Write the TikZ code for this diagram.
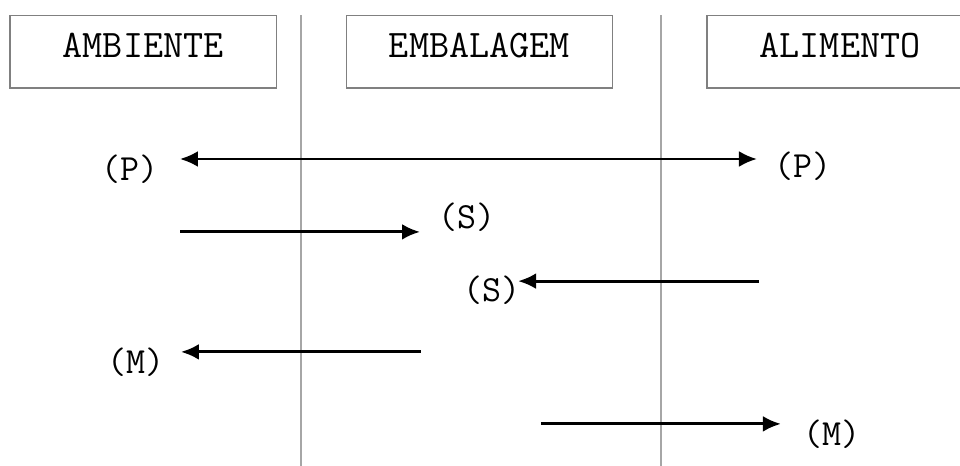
\documentclass[tikz,border=0pt]{standalone}
\usepackage{fontspec}
\usetikzlibrary{arrows.meta}
\begin{document}
\begin{tikzpicture}[
	phasebox/.style={draw=gray, line width=1.2pt, inner sep=0pt, minimum width=8.87cm, text height=1.40cm, text depth=1.03cm, font=\ttfamily\fontsize{37}{44}\selectfont},
	divider/.style={draw=gray!70, line width=1.4pt},
	flowlabel/.style={black, inner sep=0pt, font=\ttfamily\fontsize{35}{42}\selectfont},
	flow/.style={draw=black, line width=2.8pt, -{Latex[length=17pt,width=15pt]}}
	]
	\useasboundingbox (0.00,0.00) rectangle (32.00,-15.53);
	\node[phasebox] (ambiente) at (4.77,-1.72) {AMBIENTE};
	\node[phasebox] (embalagem) at (15.98,-1.72) {EMBALAGEM};
	\node[phasebox] (alimento) at (28.00,-1.72) {ALIMENTO};
	\coordinate (div1top) at (10.03,-0.50);
	\coordinate (div1bot) at (10.03,-15.53);
	\coordinate (div2top) at (22.03,-0.50);
	\coordinate (div2bot) at (22.03,-15.53);
	\draw[divider] (div1top) -- (div1bot);
	\draw[divider] (div2top) -- (div2bot);
	\node[flowlabel] (pamb) at (4.33,-5.63) {(P)};
	\node[flowlabel] (palim) at (26.77,-5.53) {(P)};
	\node[flowlabel] (semb1) at (15.57,-7.23) {(S)};
	\node[flowlabel] (semb2) at (16.40,-9.67) {(S)};
	\node[flowlabel] (mamb) at (4.53,-12.07) {(M)};
	\node[flowlabel] (malim) at (27.73,-14.47) {(M)};
	\coordinate (pL) at (6.00,-5.30);
	\coordinate (pR) at (25.23,-5.30);
	\coordinate (s1from) at (6.00,-7.73);
	\coordinate (s1to) at (14.00,-7.73);
	\coordinate (s2from) at (25.30,-9.37);
	\coordinate (s2to) at (17.27,-9.37);
	\coordinate (m1from) at (14.03,-11.73);
	\coordinate (m1to) at (6.03,-11.73);
	\coordinate (m2from) at (18.03,-14.13);
	\coordinate (m2to) at (26.03,-14.13);
	\draw[flow, line width=2.3pt, {Latex[length=17pt,width=15pt]}-{Latex[length=17pt,width=15pt]}] (pL) -- (pR);
	\draw[flow] (s1from) -- (s1to);
	\draw[flow] (s2from) -- (s2to);
	\draw[flow] (m1from) -- (m1to);
	\draw[flow] (m2from) -- (m2to);
\end{tikzpicture}
\end{document}
